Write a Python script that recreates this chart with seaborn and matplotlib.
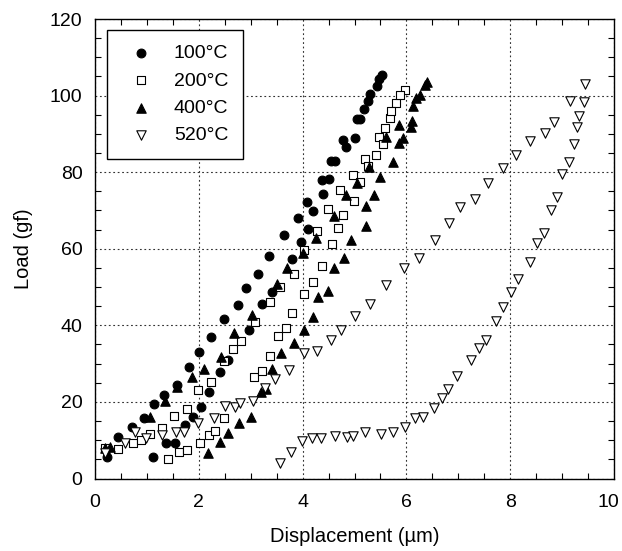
import matplotlib
matplotlib.use("Agg")
import matplotlib.pyplot as plt
import matplotlib.transforms as mtransforms
from matplotlib.ticker import MultipleLocator
import seaborn as sns
import pandas as pd

# ---- data ----
labels = ["100°C", "200°C", "400°C", "520°C"]

disp_100 = [0.23, 0.45, 0.71, 0.95, 1.14, 1.32, 1.58, 1.81, 2.01, 2.24, 2.49, 2.75, 2.90, 3.14, 3.36,
            3.65, 3.91, 4.09, 4.38, 4.54, 4.77, 5.04, 5.26, 5.44, 5.53,
            1.11, 1.37, 1.54, 1.74, 1.89, 2.05, 2.20, 2.41, 2.57, 2.96, 3.22, 3.41, 3.80, 3.97,
            4.11, 4.21, 4.40, 4.50, 4.62, 4.84, 5.00, 5.10, 5.19, 5.30, 5.48]
load_100 = [5.7, 10.9, 13.5, 15.7, 19.4, 21.8, 24.4, 29.0, 33.1, 37.0, 41.6, 45.3, 49.8, 53.3, 58.0,
            63.5, 67.9, 72.2, 77.9, 82.8, 88.3, 93.8, 98.7, 102.4, 105.3,
            5.7, 9.2, 9.3, 14.0, 16.0, 18.7, 22.6, 27.9, 30.9, 38.7, 45.7, 48.7, 57.4, 61.8,
            65.1, 69.9, 74.4, 78.3, 82.8, 86.7, 88.9, 93.8, 96.4, 100.5, 104.4]

disp_200 = [0.19, 0.45, 0.73, 0.88, 1.06, 1.29, 1.53, 1.77, 1.98, 2.24, 2.48, 2.66, 2.82, 3.08, 3.38,
            3.56, 3.83, 4.03, 4.27, 4.49, 4.73, 4.97, 5.20, 5.42, 5.47, 5.68, 5.79, 5.97,
            1.40, 1.61, 1.78, 2.03, 2.19, 2.32, 2.48, 3.06, 3.22, 3.38, 3.53, 3.68, 3.80, 4.03,
            4.20, 4.38, 4.56, 4.69, 4.77, 4.99, 5.10, 5.26, 5.55, 5.58, 5.71, 5.87]
load_200 = [7.9, 7.7, 9.2, 10.0, 11.5, 13.3, 16.3, 18.1, 23.1, 25.3, 30.7, 33.8, 35.9, 40.9, 46.1,
            50.0, 53.4, 59.8, 64.6, 70.5, 75.4, 79.2, 83.5, 84.6, 89.3, 94.2, 98.0, 101.4,
            5.0, 7.0, 7.4, 9.2, 11.3, 12.4, 15.7, 26.6, 28.1, 32.0, 37.2, 39.2, 43.3, 48.1,
            51.2, 55.5, 61.2, 65.3, 68.7, 72.4, 77.4, 81.5, 87.4, 91.5, 96.1, 100.2]

disp_400 = [0.19, 0.29, 1.06, 1.35, 1.58, 1.87, 2.10, 2.43, 2.67, 3.03, 3.51, 3.70, 4.01, 4.26, 4.60,
            4.83, 5.04, 5.28, 5.60, 5.86, 6.08, 6.13, 6.27, 6.40,
            2.18, 2.41, 2.57, 2.77, 3.00, 3.19, 3.30, 3.41, 3.58, 3.83, 4.03, 4.21, 4.29, 4.48,
            4.60, 4.79, 4.94, 5.23, 5.23, 5.37, 5.50, 5.74, 5.86, 5.93, 6.11, 6.19, 6.36]
load_400 = [7.9, 8.3, 16.1, 20.2, 23.8, 26.4, 28.7, 31.8, 38.0, 42.7, 50.9, 55.1, 58.9, 62.9, 68.5,
            74.0, 77.3, 81.3, 89.2, 92.2, 91.8, 97.3, 100.2, 103.5,
            6.7, 9.6, 11.9, 14.4, 16.0, 22.6, 23.5, 28.5, 32.7, 35.4, 38.7, 42.1, 47.3, 49.0,
            55.0, 57.7, 62.2, 66.0, 71.2, 74.0, 78.7, 82.7, 87.6, 89.0, 93.3, 99.4, 102.7]

disp_520 = [0.19, 0.58, 0.77, 0.98, 1.29, 1.56, 1.72, 1.98, 2.30, 2.51, 2.69, 2.79, 3.04, 3.28, 3.47,
            3.73, 4.02, 4.27, 4.55, 4.74, 5.00, 5.30, 5.60, 5.95, 6.25, 6.55, 6.82, 7.03, 7.32,
            7.57, 7.87, 8.12, 8.39, 8.68, 8.84, 9.15, 9.45,
            3.57, 3.78, 3.99, 4.19, 4.36, 4.63, 4.85, 4.97, 5.20, 5.52, 5.75, 5.98, 6.16, 6.32,
            6.54, 6.69, 6.80, 6.98, 7.25, 7.39, 7.54, 7.72, 7.86, 8.01, 8.15, 8.38, 8.51, 8.65,
            8.78, 8.91, 8.99, 9.14, 9.22, 9.28, 9.32, 9.42]
load_520 = [6.6, 9.2, 12.2, 10.5, 11.3, 12.2, 12.2, 14.4, 15.7, 18.9, 18.7, 19.8, 20.2, 23.7, 26.0,
            28.3, 32.8, 33.3, 36.1, 38.7, 42.5, 45.5, 50.5, 55.0, 57.5, 62.2, 66.6, 70.9, 73.1,
            77.2, 81.2, 84.6, 88.1, 90.2, 93.1, 98.6, 103.1,
            4.0, 7.0, 9.9, 10.5, 10.6, 11.2, 10.9, 11.1, 12.2, 11.6, 12.2, 13.4, 15.7, 16.1,
            18.3, 20.9, 23.3, 26.8, 30.9, 34.0, 36.1, 41.2, 44.7, 48.6, 52.2, 56.6, 61.5, 64.2,
            70.0, 73.5, 79.4, 82.6, 87.3, 91.8, 94.6, 98.3]

x_ticks = [0, 2, 4, 6, 8, 10]
y_ticks = [0, 20, 40, 60, 80, 100, 120]

series = [
    (labels[0], disp_100, load_100, "o", "black", 40),
    (labels[1], disp_200, load_200, "s", "white", 34),
    (labels[2], disp_400, load_400, "^", "black", 46),
    (labels[3], disp_520, load_520, "v", "white", 46),
]

plt.rcParams["font.family"] = ["Liberation Sans", "DejaVu Sans"]

fig = plt.figure(figsize=(6.22, 5.51), dpi=100)
ax = fig.add_axes([95 / 622, 1 - 478.5 / 551, (614 - 95) / 622, (478.5 - 19) / 551])

for lab, xs, ys, mk, fc, s in series:
    df = pd.DataFrame({"Displacement": xs, "Load": ys})
    sns.scatterplot(data=df, x="Displacement", y="Load", marker=mk, s=s,
                    color=fc, edgecolor="black", linewidth=0.8, ax=ax, label=lab,
                    zorder=3)

ax.set_xlim(0, 10)
ax.set_ylim(0, 120)
ax.set_xticks(x_ticks)
ax.set_yticks(y_ticks)
ax.set_xticklabels([str(t) for t in x_ticks])
ax.set_yticklabels([str(t) for t in y_ticks])
ax.xaxis.set_minor_locator(MultipleLocator(0.5))
ax.yaxis.set_minor_locator(MultipleLocator(5))
ax.tick_params(which="both", direction="in", top=True, right=True, labelsize=14,
               color="black", width=0.8)
ax.tick_params(which="major", length=0)
ax.tick_params(axis="x", which="major", pad=11)
ax.tick_params(axis="y", which="major", pad=9)
ax.tick_params(which="minor", length=4)
ax.grid(True, which="major", color="#333333", linestyle=(0, (1.6, 2.4)), linewidth=0.8)
ax.set_axisbelow(True)
for sp in ax.spines.values():
    sp.set_color("black")
    sp.set_linewidth(1.0)

ax.set_xlabel("Displacement (µm)", fontsize=14.5, labelpad=12)
ax.set_ylabel("Load (gf)", fontsize=14.5, labelpad=12)

# shift last x tick label slightly left so it stays inside the figure
lbl = ax.get_xticklabels()[-1]
lbl.set_transform(lbl.get_transform() + mtransforms.ScaledTranslation(-6 / 100, 0, fig.dpi_scale_trans))

leg = ax.legend(loc="upper left", bbox_to_anchor=(0.0225, 0.976), frameon=True, fancybox=False,
                edgecolor="black", fontsize=14, handletextpad=0.7, borderpad=0.75,
                labelspacing=0.5, handlelength=2.0, borderaxespad=0)
leg.get_frame().set_linewidth(1.0)
leg.get_frame().set_facecolor("white")
leg.get_frame().set_alpha(1)

fig.savefig("out.png", dpi=100)
